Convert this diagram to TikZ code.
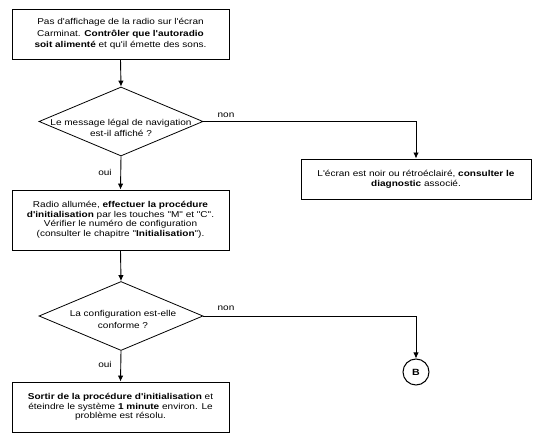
\documentclass[tikz,border=0pt]{standalone}
\usepackage{fontspec}
\setmainfont{Liberation Sans}[Ligatures=TeXOff,FakeStretch=1.18]
\usetikzlibrary{shapes.geometric,arrows.meta}
\begin{document}
\begin{tikzpicture}[x=1pt,y=-1pt,
  every node/.style={font=\fontsize{8.5}{9.6}\selectfont},
  boxst/.style={draw,line width=0.9pt,minimum width=217pt,align=center,inner sep=0pt},
  diast/.style={draw,diamond,line width=0.8pt,minimum width=164pt,minimum height=69pt,inner sep=0pt},
  lbl/.style={inner sep=0pt},
  arr/.style={line width=0.9pt,-{Latex[length=6pt,width=5.5pt]}},
  ln/.style={line width=0.9pt}]
\useasboundingbox (0,0) rectangle (536,438);
\node[boxst,minimum height=50pt,font=\fontsize{8.5}{11.5}\selectfont] (box1) at (120.5,34)
  {Pas d'affichage de la radio sur l'écran\\ Carminat. \textbf{Contrôler que l'autoradio}\\ \textbf{soit alimenté} et qu'il émette des sons.};
\node[diast] (d1) at (121,121.5) {};
\node[lbl,align=center,font=\fontsize{8.5}{11.8}\selectfont] (d1t) at (121,128) {Le message légal de navigation\\ est-il affiché ?};
\node[boxst,minimum width=230pt,minimum height=40pt,font=\fontsize{8.5}{10}\selectfont] (box2) at (416,179)
  {L'écran est noir ou rétroéclairé, \textbf{consulter le}\\ \textbf{diagnostic} associé.};
\node[boxst,minimum height=60pt,font=\fontsize{8.5}{9.5}\selectfont] (box3) at (120.5,220)
  {Radio allumée, \textbf{effectuer la procédure}\\ \textbf{d'initialisation} par les touches "M" et "C".\\ Vérifier le numéro de configuration\\ (consulter le chapitre "\textbf{Initialisation}").};
\node[diast] (d2) at (121,316) {};
\node[lbl,align=center,font=\fontsize{8.5}{12.7}\selectfont] (d2t) at (123,319.5) {La configuration est-elle\\ conforme ?};
\node[draw,circle,line width=1pt,minimum size=26pt,inner sep=0pt,font=\fontsize{9}{10}\bfseries] (B) at (416,372) {B};
\node[boxst,minimum height=50pt,font=\fontsize{8.5}{9.3}\selectfont] (box4) at (120.5,407)
  {\textbf{Sortir de la procédure d'initialisation} et\\ éteindre le système \textbf{1 minute} environ. Le\\ problème est résolu.};
\draw[arr] (box1.south) -- (d1.north);
\draw[arr] (d1.east) -| (box2.north);
\draw[arr] (d1.south) -- (box3.north);
\draw[arr] (box3.south) -- (d2.north);
\draw[arr] (d2.east) -| (B.north);
\draw[arr] (d2.south) -- (box4.north);
\node[lbl] (n1) at (226,115) {non};
\node[lbl] (o1) at (105,172) {oui};
\node[lbl] (n2) at (226,308) {non};
\node[lbl] (o2) at (105,364) {oui};
\end{tikzpicture}
\end{document}
